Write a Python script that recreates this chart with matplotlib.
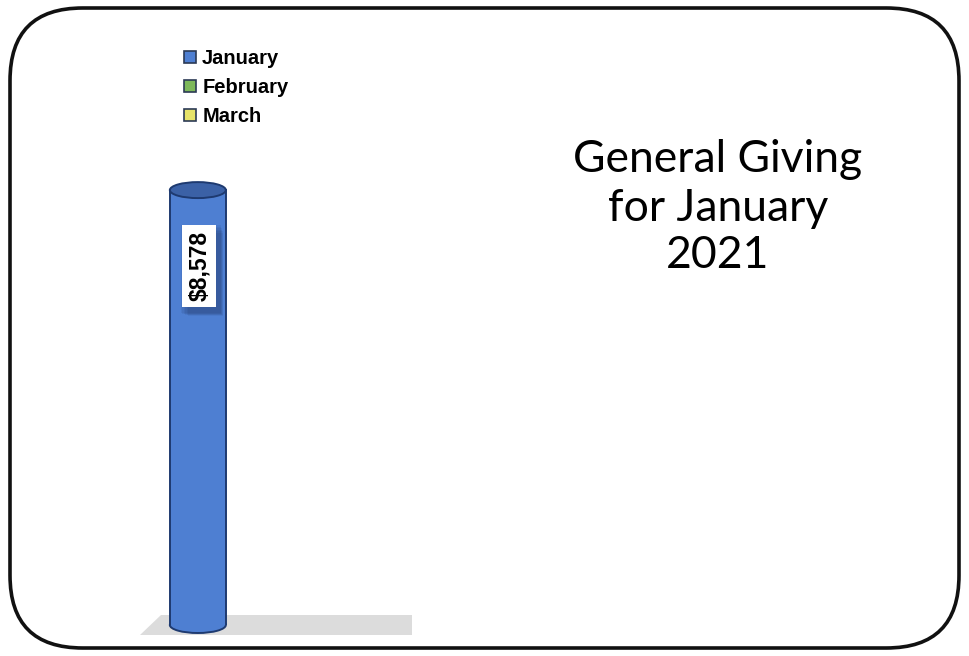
import matplotlib
matplotlib.use("Agg")
import matplotlib.pyplot as plt
from matplotlib.patches import FancyBboxPatch, Ellipse, Polygon, Patch, Rectangle

# ---- data ----
months = ["January", "February", "March"]
values = [8578, None, None]
colors = ["#4E7FD2", "#7DB85A", "#E6E36A"]
value_labels = ["$8,578"]
title_lines = ["General Giving", "for January", "2021"]

W, H = 969, 656
fig = plt.figure(figsize=(W / 100, H / 100), dpi=100)
fig.patch.set_facecolor("white")

# rounded frame
frame = FancyBboxPatch((10 / W, 8 / H), (W - 20) / W, (H - 16) / H,
                       boxstyle="round,pad=0,rounding_size=0.075",
                       transform=fig.transFigure, facecolor="none",
                       edgecolor="#111111", linewidth=2.6, mutation_aspect=W / H,
                       zorder=10)
fig.patches.append(frame)

# axes: y=0 at pixel 625, 10000 units -> 507 px
ax_left = 155 / W
ax_w = (412 - 155) / W
ax_bottom = (H - 625) / H
ax_h = 507 / H
ax = fig.add_axes([ax_left, ax_bottom, ax_w, ax_h])
ax.set_xlim(-0.5, 2.5)
ax.set_ylim(0, 10000)
ax.axis("off")

px_y = 10000 / 507.0
px_x = 3.0 / (412 - 155)

# floor
floor = Polygon([(-0.5 - 15 * px_x, -10 * px_y), (-0.5 + 6 * px_x, 10 * px_y),
                 (2.5, 10 * px_y), (2.5, -10 * px_y)], closed=True,
                facecolor="#DCDCDC", edgecolor="none", clip_on=False, zorder=1)
ax.add_patch(floor)

bw = 56 * px_x
eh = 16 * px_y
edge = "#1E3A70"
for i, (m, v) in enumerate(zip(months, values)):
    if v is None:
        continue
    # bottom ellipse
    ax.add_patch(Ellipse((i, 0), bw, eh, facecolor=colors[i], edgecolor=edge,
                         linewidth=1.4, zorder=2, clip_on=False))
    ax.bar(i, v, width=bw, color=colors[i], edgecolor="none", zorder=3)
    ax.plot([i - bw / 2, i - bw / 2], [0, v], color=edge, lw=1.4, zorder=4)
    ax.plot([i + bw / 2, i + bw / 2], [0, v], color=edge, lw=1.4, zorder=4)
    ax.add_patch(Ellipse((i, v), bw, eh, facecolor="#3B61A6", edgecolor=edge,
                         linewidth=1.4, zorder=5, clip_on=False))
    # label box with soft shadow
    ly = v * 0.825
    boxw, boxh = 34 * px_x, 82 * px_y
    for k in range(6):
        off = 3 + k
        grow = (6 - k)
        ax.add_patch(Rectangle((i - boxw / 2 + off * px_x - grow * px_x / 2,
                                ly - boxh / 2 - off * px_y - grow * px_y / 2),
                               boxw + grow * px_x, boxh + grow * px_y,
                               facecolor=(0.08, 0.12, 0.28, 0.07), edgecolor="none",
                               zorder=5.5))
    ax.add_patch(Rectangle((i - boxw / 2 + 1.5 * px_x, ly - boxh / 2), boxw, boxh,
                           facecolor="white", edgecolor="none", zorder=5.8))
    ax.text(i + 1.5 * px_x, ly, value_labels[i], rotation=90, ha="center", va="center",
            fontsize=16.5, fontweight="bold", family="Liberation Sans",
            color="black", zorder=6)

# legend
handles = [Patch(facecolor=c, edgecolor="#2B3A55", linewidth=1.2) for c in colors]
leg = fig.legend(handles, months, loc="upper left", bbox_to_anchor=(184 / W, 1 - 49 / H),
                 frameon=False, prop=dict(family="Liberation Sans", weight="bold", size=14.5),
                 handlelength=0.6, handleheight=0.6, handletextpad=0.3,
                 labelspacing=0.5, borderaxespad=0, borderpad=0)

# title
for j, (t, yy) in enumerate(zip(title_lines, [160, 208, 255])):
    fig.text(718 / W, 1 - yy / H, t, ha="center", va="center", fontsize=32,
             family="Lato", color="black")

fig.savefig("out.png", dpi=100)
